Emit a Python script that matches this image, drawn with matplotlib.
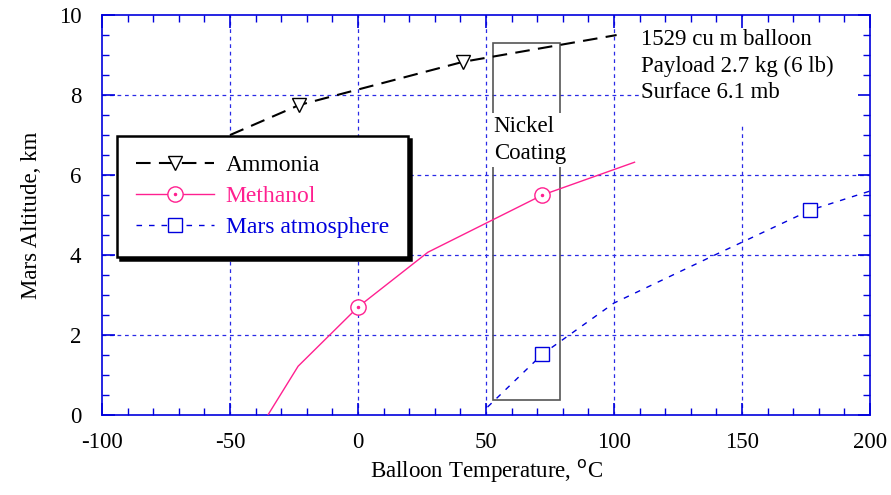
import matplotlib
matplotlib.use("Agg")
import matplotlib.pyplot as plt
from matplotlib.ticker import MultipleLocator
from matplotlib.patches import Rectangle

# data
ammonia_t = [-50, -23, 41, 101]
ammonia_h = [7.0, 7.75, 8.83, 9.5]
ammonia_mark_t = [-23, 41]
ammonia_mark_h = [7.75, 8.83]

methanol_t = [-35.2, -23.4, 0, 27.3, 72, 108]
methanol_h = [0.0, 1.22, 2.7, 4.07, 5.5, 6.32]
methanol_mark_t = [0, 72]
methanol_mark_h = [2.7, 5.5]

mars_t = [50.6, 72, 100, 140, 176.6, 200]
mars_h = [0.2, 1.52, 2.8, 4.02, 5.12, 5.6]
mars_mark_t = [72, 176.6]
mars_mark_h = [1.52, 5.12]

coating_t = [52.7, 78.9]
coating_h = [0.37, 9.3]

note_lines = ["1529 cu m balloon", "Payload 2.7 kg (6 lb)", "Surface 6.1 mb"]

pink = "#ff2090"
blue = "#0000dd"
gridblue = "#2a2ae6"
fs = 16.5

plt.rcParams['font.family'] = ['Liberation Serif', 'DejaVu Serif']
plt.rcParams['axes.unicode_minus'] = False

fig = plt.figure(figsize=(8.91, 4.95), dpi=100)
ax = fig.add_axes([0.1145, 0.1616, 0.862, 0.808])

ax.set_xlim(-100, 200)
ax.set_ylim(0, 10)

# grid
for gx in [-50, 0, 50, 100, 150]:
    ax.axvline(gx, color=gridblue, lw=0.9, dashes=(3, 3), zorder=1)
for gy in [2, 4, 6, 8]:
    ax.axhline(gy, color=gridblue, lw=0.9, dashes=(3, 3), zorder=1)

# nickel coating box
ax.add_patch(Rectangle((coating_t[0], coating_h[0]), coating_t[1] - coating_t[0],
                       coating_h[1] - coating_h[0], fill=False, edgecolor="#555555",
                       lw=1.2, zorder=2))
ax.text(coating_t[0] + 0.3, 6.88, "Nickel\nCoating", fontsize=fs, ha='left', va='center',
        linespacing=1.35, zorder=3,
        bbox=dict(facecolor='white', edgecolor='none', pad=2.5))

# series
ax.plot(ammonia_t, ammonia_h, color='black', lw=1.5, dashes=(7, 4), zorder=4)
ax.plot(ammonia_mark_t, ammonia_mark_h, ls='none', marker='v', ms=10,
        mfc='white', mec='black', mew=1, zorder=5)
ax.plot(methanol_t, methanol_h, color=pink, lw=1, zorder=4)
ax.plot(methanol_mark_t, methanol_mark_h, ls='none', marker='o', ms=11,
        mfc='white', mec=pink, mew=1, zorder=5)
d2, = ax.plot(methanol_mark_t, methanol_mark_h, ls='none', marker='o', ms=1.5,
              color=pink, zorder=6)
ax.plot(mars_t, mars_h, color=blue, lw=1, dashes=(4, 5), zorder=4)
ax.plot(mars_mark_t, mars_mark_h, ls='none', marker='s', ms=10,
        mfc='white', mec=blue, mew=1, zorder=5)

# annotation with white area behind it (covers grid, not the ticks)
ax.add_patch(Rectangle((110, 7.3), 89.6, 2.65, facecolor='white', edgecolor='none',
                       zorder=1.2))
ax.text(110.5, 9.65, "\n".join(note_lines), fontsize=fs, ha='left', va='top',
        linespacing=1.35, zorder=3)

# legend
h1, = ax.plot([], [], color='black', lw=1.5, dashes=(7, 4), marker='v', ms=10,
              mfc='white', mec='black', mew=1)
h2, = ax.plot([], [], color=pink, lw=1, marker='o', ms=11, mfc='white', mec=pink, mew=1)
h3, = ax.plot([], [], color=blue, lw=1, dashes=(4, 5), marker='s', ms=10,
              mfc='white', mec=blue, mew=1)
leg = ax.legend([h1, (h2, d2), h3], ["Ammonia", "Methanol", "Mars atmosphere"],
                loc='upper left', bbox_to_anchor=(0.0195, 0.6975),
                prop={'size': 17},
                frameon=True, fancybox=False, shadow={'color': 'black', 'alpha': 1},
                handlelength=3.3, borderpad=0.8, labelspacing=0.4, handletextpad=0.5,
                borderaxespad=0)
leg.get_frame().set_edgecolor('black')
leg.get_frame().set_linewidth(1.8)
leg.set_zorder(10)
for txt, c in zip(leg.get_texts(), ['black', pink, blue]):
    txt.set_color(c)

# axes styling
for s in ax.spines.values():
    s.set_color(blue)
    s.set_linewidth(1.2)
ax.xaxis.set_major_locator(MultipleLocator(50))
ax.xaxis.set_minor_locator(MultipleLocator(10))
ax.yaxis.set_major_locator(MultipleLocator(2))
ax.yaxis.set_minor_locator(MultipleLocator(0.5))
ax.tick_params(which='both', direction='in', top=True, right=True, color=blue,
               labelsize=fs, labelcolor='black')
ax.tick_params(which='major', length=9, width=1.2)
ax.tick_params(which='minor', length=5, width=1)
ax.tick_params(axis='x', which='major', pad=12)
ax.tick_params(axis='y', which='major', pad=15)

ax.set_xlabel("Balloon Temperature, $^{\\mathrm{o}}$C", fontsize=fs, labelpad=4)
ax.set_ylabel("Mars Altitude, km", fontsize=fs, labelpad=12)

fig.savefig("out.png", dpi=100)
